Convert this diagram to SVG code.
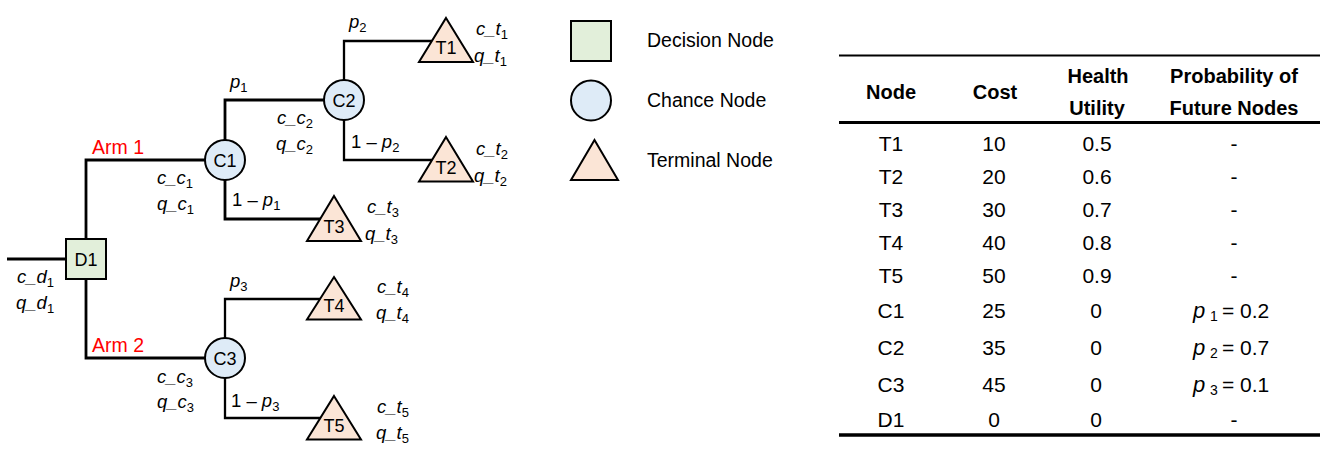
<svg xmlns="http://www.w3.org/2000/svg" width="1325" height="456" viewBox="0 0 1325 456">
<style>
  text { font-family: "Liberation Sans", Arial, sans-serif; fill: #000; }
  .conn { fill: none; stroke: #000; stroke-width: 2.8; stroke-linejoin: miter; }
  .conn2 { fill: none; stroke: #000; stroke-width: 2.3; }
  .dec { fill: #E2EFDA; stroke: #000; stroke-width: 2; }
  .cha { fill: #DEEBF7; stroke: #000; stroke-width: 2; }
  .ter { fill: #FBE5D6; stroke: #000; stroke-width: 2; stroke-linejoin: miter; }
  .nl { font-size: 18px; text-anchor: middle; }
  .lab { font-size: 18.5px; }
  .it { font-style: italic; }
  .sub { font-size: 13px; font-style: normal; }
  .arm { font-size: 19.5px; fill: #FF0000; }
  .leg { font-size: 19.5px; }
  .th { font-size: 20px; font-weight: bold; text-anchor: middle; }
  .td { font-size: 21px; text-anchor: middle; }
  .rule { stroke: #000; }
</style>

<g id="connectors">
  <path class="conn" d="M7,259 H66"/>
  <path class="conn" d="M86,239 V160 H205"/>
  <path class="conn" d="M86,279 V358 H205"/>
  <path class="conn" d="M225,140 V100 H324"/>
  <path class="conn" d="M225,180 V219 H325"/>
  <path class="conn2" d="M344,80 V41 H440"/>
  <path class="conn2" d="M344,120 V160 H440"/>
  <path class="conn2" d="M225,338 V299 H325"/>
  <path class="conn2" d="M225,378 V418 H325"/>
</g>

<g id="D1">
  <rect class="dec" x="66" y="239" width="40" height="40"/>
  <text class="nl" x="86" y="266">D1</text>
</g>
<g id="C1">
  <circle class="cha" cx="225" cy="160" r="20"/>
  <text class="nl" x="225" y="166.5">C1</text>
</g>
<g id="C2">
  <circle class="cha" cx="344" cy="100" r="20"/>
  <text class="nl" x="344" y="106.5">C2</text>
</g>
<g id="C3">
  <circle class="cha" cx="225" cy="358" r="20"/>
  <text class="nl" x="225" y="364.5">C3</text>
</g>
<g id="T1">
  <polygon class="ter" points="446,18 473,62 419,62"/>
  <text class="nl" x="446" y="54">T1</text>
</g>
<g id="T2">
  <polygon class="ter" points="446,137 473,181.5 419,181.5"/>
  <text class="nl" x="446" y="173.5">T2</text>
</g>
<g id="T3">
  <polygon class="ter" points="334,196 361,241 307,241"/>
  <text class="nl" x="334" y="233">T3</text>
</g>
<g id="T4">
  <polygon class="ter" points="334,277 361,319.5 307,319.5"/>
  <text class="nl" x="334" y="312">T4</text>
</g>
<g id="T5">
  <polygon class="ter" points="334,396 361,439.5 307,439.5"/>
  <text class="nl" x="334" y="431.5">T5</text>
</g>

<g id="labels">
  <text class="arm" x="92" y="154">Arm 1</text>
  <text class="arm" x="92" y="352">Arm 2</text>

  <text class="lab" x="349" y="28"><tspan class="it">p</tspan><tspan class="sub" dy="4">2</tspan></text>
  <text class="lab" x="351" y="148">1 – <tspan class="it">p</tspan><tspan class="sub" dy="4">2</tspan></text>
  <text class="lab" x="230" y="88"><tspan class="it">p</tspan><tspan class="sub" dy="4">1</tspan></text>
  <text class="lab" x="232" y="206">1 – <tspan class="it">p</tspan><tspan class="sub" dy="4">1</tspan></text>
  <text class="lab" x="230" y="287"><tspan class="it">p</tspan><tspan class="sub" dy="4">3</tspan></text>
  <text class="lab" x="231" y="407">1 – <tspan class="it">p</tspan><tspan class="sub" dy="4">3</tspan></text>

  <text class="lab it" x="476" y="35">c_t<tspan class="sub" dy="4">1</tspan></text>
  <text class="lab it" x="474" y="62">q_t<tspan class="sub" dy="4">1</tspan></text>
  <text class="lab it" x="476" y="155">c_t<tspan class="sub" dy="4">2</tspan></text>
  <text class="lab it" x="474" y="182">q_t<tspan class="sub" dy="4">2</tspan></text>
  <text class="lab it" x="367" y="213">c_t<tspan class="sub" dy="4">3</tspan></text>
  <text class="lab it" x="365" y="240">q_t<tspan class="sub" dy="4">3</tspan></text>
  <text class="lab it" x="377" y="293">c_t<tspan class="sub" dy="4">4</tspan></text>
  <text class="lab it" x="376" y="319">q_t<tspan class="sub" dy="4">4</tspan></text>
  <text class="lab it" x="377" y="413">c_t<tspan class="sub" dy="4">5</tspan></text>
  <text class="lab it" x="376" y="439">q_t<tspan class="sub" dy="4">5</tspan></text>

  <text class="lab it" x="277" y="124">c_c<tspan class="sub" dy="4">2</tspan></text>
  <text class="lab it" x="276" y="150">q_c<tspan class="sub" dy="4">2</tspan></text>
  <text class="lab it" x="157" y="184">c_c<tspan class="sub" dy="4">1</tspan></text>
  <text class="lab it" x="157" y="210">q_c<tspan class="sub" dy="4">1</tspan></text>
  <text class="lab it" x="157" y="383">c_c<tspan class="sub" dy="4">3</tspan></text>
  <text class="lab it" x="157" y="408">q_c<tspan class="sub" dy="4">3</tspan></text>
  <text class="lab it" x="17" y="283">c_d<tspan class="sub" dy="4">1</tspan></text>
  <text class="lab it" x="16" y="309">q_d<tspan class="sub" dy="4">1</tspan></text>
</g>

<g id="legend">
  <rect class="dec" x="571" y="21" width="40" height="40"/>
  <circle class="cha" cx="591" cy="100.5" r="20"/>
  <polygon class="ter" points="594.5,140 618,180 571,180"/>
  <text class="leg" x="647" y="47">Decision Node</text>
  <text class="leg" x="647" y="107">Chance Node</text>
  <text class="leg" x="647" y="167">Terminal Node</text>
</g>

<g id="table">
  <line class="rule" x1="839" y1="55.5" x2="1320" y2="55.5" stroke-width="2.2"/>
  <line class="rule" x1="839" y1="122.5" x2="1320" y2="122.5" stroke-width="3"/>
  <line class="rule" x1="839" y1="435" x2="1320" y2="435" stroke-width="3.3"/>

  <text class="th" x="891" y="99">Node</text>
  <text class="th" x="995" y="99">Cost</text>
  <text class="th" x="1098" y="83">Health</text>
  <text class="th" x="1097" y="115">Utility</text>
  <text class="th" x="1234" y="83">Probability of</text>
  <text class="th" x="1234" y="115">Future Nodes</text>

  <g class="td">
    <text class="td" x="891" y="151">T1</text><text class="td" x="994" y="151">10</text><text class="td" x="1097" y="151">0.5</text><text class="td" x="1234" y="151">-</text>
    <text class="td" x="891" y="184">T2</text><text class="td" x="994" y="184">20</text><text class="td" x="1097" y="184">0.6</text><text class="td" x="1234" y="184">-</text>
    <text class="td" x="891" y="217">T3</text><text class="td" x="994" y="217">30</text><text class="td" x="1097" y="217">0.7</text><text class="td" x="1234" y="217">-</text>
    <text class="td" x="891" y="250">T4</text><text class="td" x="994" y="250">40</text><text class="td" x="1097" y="250">0.8</text><text class="td" x="1234" y="250">-</text>
    <text class="td" x="891" y="283">T5</text><text class="td" x="994" y="283">50</text><text class="td" x="1097" y="283">0.9</text><text class="td" x="1234" y="283">-</text>
    <text class="td" x="891" y="318">C1</text><text class="td" x="994" y="318">25</text><text class="td" x="1096" y="318">0</text>
    <text class="td" x="891" y="355">C2</text><text class="td" x="994" y="355">35</text><text class="td" x="1096" y="355">0</text>
    <text class="td" x="891" y="392">C3</text><text class="td" x="994" y="392">45</text><text class="td" x="1096" y="392">0</text>
    <text class="td" x="891" y="427">D1</text><text class="td" x="994" y="427">0</text><text class="td" x="1096" y="427">0</text><text class="td" x="1234" y="427">-</text>
  </g>
  <text style="font-size:21px" x="1193" y="318"><tspan class="it" style="font-size:22px">p</tspan><tspan style="font-size:14px" x="1210" dy="3">1</tspan><tspan x="1222" dy="-3">= 0.2</tspan></text>
  <text style="font-size:21px" x="1193" y="355"><tspan class="it" style="font-size:22px">p</tspan><tspan style="font-size:14px" x="1210" dy="3">2</tspan><tspan x="1222" dy="-3">= 0.7</tspan></text>
  <text style="font-size:21px" x="1193" y="392"><tspan class="it" style="font-size:22px">p</tspan><tspan style="font-size:14px" x="1210" dy="3">3</tspan><tspan x="1222" dy="-3">= 0.1</tspan></text>
</g>
</svg>
